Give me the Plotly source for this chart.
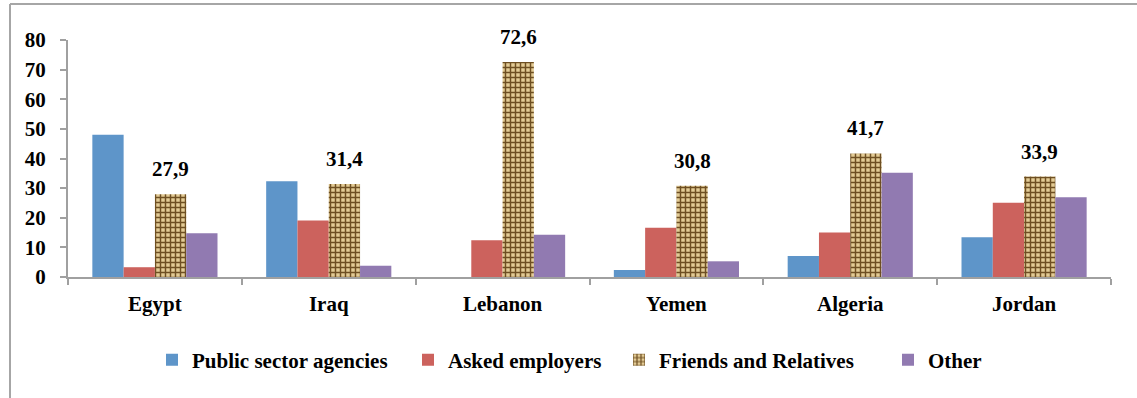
import plotly.graph_objects as go

countries = ["Egypt", "Iraq", "Lebanon", "Yemen", "Algeria", "Jordan"]
public_sector = [48.0, 32.3, 0.0, 2.4, 7.1, 13.4]
asked_employers = [3.3, 19.1, 12.4, 16.6, 15.0, 25.1]
friends_relatives = [27.9, 31.4, 72.6, 30.8, 41.7, 33.9]
other = [14.8, 3.8, 14.3, 5.3, 35.2, 26.9]

y_ticks = [0, 10, 20, 30, 40, 50, 60, 70, 80]

FONT = "Times New Roman, Liberation Serif, DejaVu Serif, serif"
FONT_SIZE = 21
BARGAP = 0.28
N_SERIES = 4

# plot-area geometry in pixels, used to place legend entries
PLOT_L, PLOT_R, PLOT_T, PLOT_B = 68, 1111, 40, 277
W, H = 1137, 398


def px_to_paper_x(px):
    return (px - PLOT_L) / (PLOT_R - PLOT_L)


def px_to_paper_y(py):
    return (PLOT_B - py) / (PLOT_B - PLOT_T)


legend_font = dict(family=FONT, size=FONT_SIZE, color="black", weight="bold")
legend_left_px = [152, 408, 619, 888]
legend_names = ["legend", "legend2", "legend3", "legend4"]

fig = go.Figure()

fig.add_trace(go.Bar(
    name="Public sector agencies", x=countries, y=public_sector,
    marker=dict(color="#5E95C9", line=dict(width=0)), legend="legend",
))
fig.add_trace(go.Bar(
    name="Asked employers", x=countries, y=asked_employers,
    marker=dict(color="#CC625D", line=dict(width=0)), legend="legend2",
))
fig.add_trace(go.Bar(
    name="Friends and Relatives", x=countries, y=friends_relatives,
    marker=dict(
        color="#D9BF88",
        line=dict(width=0),
        pattern=dict(shape="+", fgcolor="#6E4F22", bgcolor="#E3CB95",
                     size=5, solidity=0.5, fillmode="replace"),
    ),
    legend="legend3",
))
fig.add_trace(go.Bar(
    name="Other", x=countries, y=other,
    marker=dict(color="#917AB1", line=dict(width=0)), legend="legend4",
))

# value labels above the Friends and Relatives bars (third bar in each group)
bar_w = (1 - BARGAP) / N_SERIES
offset = -((1 - BARGAP) / 2) + bar_w * 2.5
for i, v in enumerate(friends_relatives):
    fig.add_annotation(
        x=i + offset, y=v, xref="x", yref="y",
        text=f"<b>{v:.1f}</b>".replace(".", ","),
        showarrow=False, yanchor="bottom", yshift=11,
        font=dict(family=FONT, size=FONT_SIZE, color="black"),
    )

# outer chart frame
frame_x = px_to_paper_x(10)
frame_y = px_to_paper_y(4)
fig.add_shape(type="line", xref="paper", yref="paper",
              x0=frame_x, x1=1.2, y0=frame_y, y1=frame_y,
              line=dict(color="#A6A6A6", width=2))
fig.add_shape(type="line", xref="paper", yref="paper",
              x0=frame_x, x1=frame_x, y0=frame_y, y1=-0.7,
              line=dict(color="#A6A6A6", width=2))

legend_layout = {}
for name, left in zip(legend_names, legend_left_px):
    legend_layout[name] = dict(
        orientation="h", x=px_to_paper_x(left), xanchor="left",
        y=px_to_paper_y(360), yanchor="middle", font=legend_font,
        itemwidth=30, bgcolor="rgba(0,0,0,0)",
    )

fig.update_layout(
    width=W, height=H,
    margin=dict(l=PLOT_L, r=W - PLOT_R, t=PLOT_T, b=H - PLOT_B),
    paper_bgcolor="white", plot_bgcolor="white",
    barmode="group", bargap=BARGAP, bargroupgap=0,
    font=dict(family=FONT, size=FONT_SIZE, color="black", weight="bold"),
    showlegend=True,
    xaxis=dict(
        type="category", showline=True, linecolor="#A0A0A0", linewidth=2,
        ticks="outside", tickson="boundaries", ticklen=6, tickcolor="#A0A0A0",
        tickwidth=1.5, showgrid=False, ticklabelstandoff=7,
    ),
    yaxis=dict(
        range=[0, 80], tickvals=y_ticks, showline=True, linecolor="#A0A0A0",
        linewidth=2, ticks="outside", ticklen=6, tickcolor="#A0A0A0", tickwidth=1.5,
        showgrid=False, zeroline=False, ticklabelstandoff=10,
    ),
    **legend_layout,
)

fig.write_html("out.html")
